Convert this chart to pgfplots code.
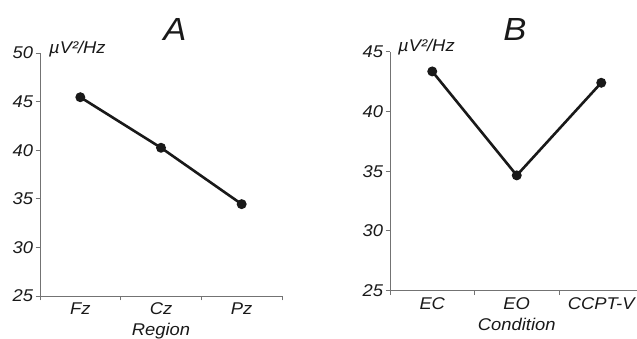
\documentclass[border=0pt]{standalone}
\usepackage{pgfplots}
\pgfplotsset{compat=1.18}
\usepackage{fontspec}
\setmainfont{Liberation Sans}[FakeStretch=1.08]
\begin{document}
\begin{tikzpicture}
\pgfplotsset{
  myax/.style={
    scale only axis,
    anchor=south west,
    axis x line*=bottom,
    axis y line*=left,
    axis line style={-, draw=black!55, line width=0.9pt},
    major tick style={draw=black!55, line width=0.9pt},
    tick align=outside,
    major tick length=4.5pt,
    xmin=0.5, xmax=3.5,
    xtick={0.5,1.5,2.5,3.5},
    x tick label as interval,
    ymin=25,
    /pgf/number format/assume math mode=true,
    tick label style={font=\fontsize{17}{19}\selectfont\itshape, text=black!90},
    xlabel style={font=\fontsize{17}{19}\selectfont\itshape, text=black!90,
      at={(axis description cs:0.5,0)}, anchor=north, yshift=-24pt},
    yticklabel style={xshift=1pt},
    xticklabel style={yshift=1pt},
    clip=false,
  },
  myline/.style={black!90, line width=2.6pt, mark=*, mark size=3.6pt, mark options={solid, fill=black!90}},
}
\begin{axis}[myax, at={(40pt,43pt)}, width=242pt, height=243pt,
  ymax=50, ytick={25,30,35,40,45,50},
  xticklabels={Fz,Cz,Pz}, xlabel={Region}]
\addplot[myline] coordinates {(1,45.45) (2,40.25) (3,34.45)};
\end{axis}
\begin{axis}[myax, at={(390pt,48.3pt)}, width=253.5pt, height=239pt,
  ymax=45, ytick={25,30,35,40,45},
  xticklabels={EC,EO,CCPT-V}, xlabel={Condition}]
\addplot[myline] coordinates {(1,43.35) (2,34.65) (3,42.4)};
\end{axis}
\node[font=\fontsize{32}{34}\selectfont\itshape, text=black!90] at (175pt,310pt) {A};
\node[font=\fontsize{32}{34}\selectfont\itshape, text=black!90] at (515pt,310pt) {B};
\node[anchor=base west, font=\fontsize{17}{19}\selectfont\itshape, text=black!90, inner sep=0pt] at (49pt,285pt) {µV²/Hz};
\node[anchor=base west, font=\fontsize{17}{19}\selectfont\itshape, text=black!90, inner sep=0pt] at (398pt,287pt) {µV²/Hz};
\pgfresetboundingbox
\path[use as bounding box] (0,0) rectangle (637pt,339pt);
\end{tikzpicture}
\end{document}
